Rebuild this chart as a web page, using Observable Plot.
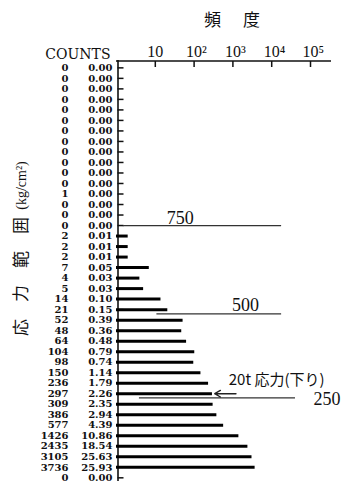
<!DOCTYPE html>
<html>
<head>
<meta charset="utf-8">
<script src="https://cdn.jsdelivr.net/npm/d3@7"></script>
<script src="https://cdn.jsdelivr.net/npm/@observablehq/plot@0.6"></script>
<style>
  html, body { margin: 0; padding: 0; background: #fff; }
  #chart { position: relative; width: 342px; height: 487px; }
  #title {
    position: absolute; left: 204px; top: 10px;
    font: 17px/1 "Noto Sans CJK JP"; letter-spacing: 22px;
    color: #111; white-space: nowrap;
  }
  svg { display: block; }
</style>
</head>
<body>
<div id="chart"><div id="title">頻度</div></div>
<script>
// Stress-range histogram: one row per stress bin, top = highest stress.
const counts = [
  0, 0, 0, 0, 0, 0, 0, 0, 0, 0, 0, 0, 1, 0, 0, 0,
  2, 2, 2, 7, 4, 5, 14, 21, 52, 48, 64, 104, 98, 150, 236,
  297, 309, 386, 577, 1426, 2435, 3105, 3736, 0
];
const percents = [
  0.00, 0.00, 0.00, 0.00, 0.00, 0.00, 0.00, 0.00, 0.00, 0.00, 0.00, 0.00, 0.00, 0.00, 0.00, 0.00,
  0.01, 0.01, 0.01, 0.05, 0.03, 0.03, 0.10, 0.15, 0.39, 0.36, 0.48, 0.79, 0.74, 1.14, 1.79,
  2.26, 2.35, 2.94, 4.39, 10.86, 18.54, 25.63, 25.93, 0.00
];

// Frequency axis (log) ticks
const freqTicks = [10, 100, 1000, 10000, 100000];
const freqTickLabels = ["10", "10²", "10³", "10⁴", "10⁵"];

// Stress levels (kg/cm²) marked across the histogram, with the bin position they fall at
const levelStress = [750, 500, 250];
const levelRow = [15, 23.4, 31.4];
const levelFrom = [1.5, 11, 3.9];
const levelTo = [18000, 18000, 41000];

// Annotation for the 20 t load case
const noteText = "20t 応力(下り)";
const noteRow = 31;
const noteTail = 1200;
const noteHead = 340;

const rows = counts.map((count, i) => ({row: i, count, pct: percents[i]}));
const levels = levelStress.map((s, i) => ({label: String(s), row: levelRow[i], from: levelFrom[i], to: levelTo[i]}));
const note = [{text: noteText, row: noteRow, tail: noteTail, head: noteHead}];

const serif = "Liberation Serif";
const numFont = "DejaVu Serif";
const cjk = "Noto Sans CJK JP";

const chart = Plot.plot({
  width: 342,
  height: 487,
  marginTop: 60,
  marginLeft: 116,
  marginRight: 11,
  marginBottom: 6,
  style: {background: "#fff", color: "#111", fontFamily: numFont, fontSize: "10px"},
  x: {type: "log", domain: [1, 10 ** 5.541]},
  y: {domain: [-0.7, 39.35], reverse: true},
  marks: [
    // frame: left and top axis lines
    Plot.ruleX([1], {strokeWidth: 1.6, dx: 1.5, stroke: "#111"}),
    Plot.ruleY([-0.7], {strokeWidth: 1.6, dy: 0.5, stroke: "#111"}),
    // inward ticks
    Plot.axisY({anchor: "left", ticks: d3.range(counts.length), tickSize: -6, tickFormat: () => "", label: null, dx: 1.5, strokeWidth: 1.5}),
    Plot.axisX({anchor: "top", ticks: freqTicks, tickSize: -6, tickFormat: () => "", label: null, strokeWidth: 1.5}),
    Plot.text(freqTicks, {
      x: d => d, frameAnchor: "top", text: (d, i) => freqTickLabels[i],
      lineAnchor: "bottom", textAnchor: "start", dx: -8, dy: -4,
      fontFamily: serif, fontSize: 16
    }),
    // histogram bars (log length, starting at 1)
    Plot.ruleY(rows.filter(d => d.count > 0), {y: "row", x1: 1, x2: "count", strokeWidth: 3, stroke: "#000"}),
    // stress level lines
    Plot.ruleY(levels, {y: "row", x1: "from", x2: "to", stroke: "#333", strokeWidth: 1.2}),
    Plot.text(levels.filter(d => d.label === "750"), {x: "from", y: "row", text: "label", textAnchor: "middle", lineAnchor: "bottom", dx: 57, dy: -2, fontFamily: serif, fontSize: 18}),
    Plot.text(levels.filter(d => d.label === "500"), {x: "to", y: "row", text: "label", textAnchor: "middle", lineAnchor: "bottom", dx: -36, dy: -3, fontFamily: serif, fontSize: 18}),
    Plot.text(levels.filter(d => d.label === "250"), {x: "to", y: "row", text: "label", textAnchor: "start", lineAnchor: "middle", dx: 18, dy: 1, fontFamily: serif, fontSize: 18}),
    // annotation
    Plot.arrow(note, {x1: "tail", x2: "head", y1: "row", y2: "row", headLength: 7, strokeWidth: 1.4, stroke: "#222"}),
    Plot.text(note, {x: "head", y: "row", text: "text", textAnchor: "start", lineAnchor: "middle", dx: 14, dy: -14, fontFamily: cjk, fontSize: 15}),
    // row labels: counts and percentages
    Plot.text(rows, {y: "row", text: d => String(d.count), frameAnchor: "left", textAnchor: "end", dx: -48, fontWeight: "bold", fontSize: 10}),
    Plot.text(rows, {y: "row", text: d => d.pct.toFixed(2), frameAnchor: "left", textAnchor: "end", dx: -4, fontWeight: "bold", fontSize: 10}),
    Plot.text(["COUNTS"], {frameAnchor: "top-left", textAnchor: "end", lineAnchor: "bottom", dx: -6, dy: -2, fontSize: 14}),
    // vertical axis title
    Plot.text(["応　力　範　囲"], {frameAnchor: "top-left", rotate: -90, textAnchor: "middle", lineAnchor: "middle", dx: -95, dy: 216, fontFamily: cjk, fontSize: 17}),
    Plot.text(["(kg/cm²)"], {frameAnchor: "top-left", rotate: -90, textAnchor: "middle", lineAnchor: "middle", dx: -95, dy: 125, fontFamily: serif, fontSize: 14})
  ]
});

document.getElementById("chart").appendChild(chart);
</script>
</body>
</html>
